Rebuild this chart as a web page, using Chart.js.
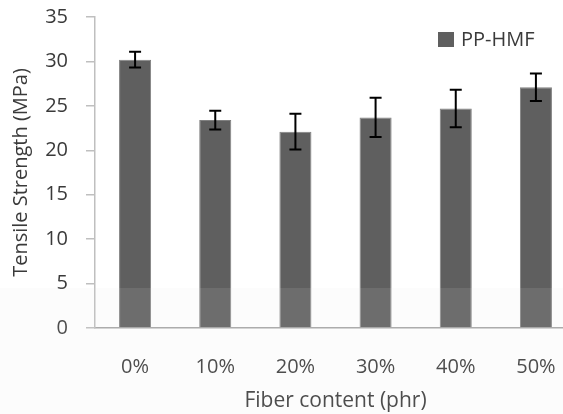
<!DOCTYPE html>
<html>
<head>
<meta charset="utf-8">
<script src="https://cdn.jsdelivr.net/npm/chart.js@4/dist/chart.umd.min.js"></script>
<style>
  html, body { margin: 0; padding: 0; background: #ffffff; overflow: hidden; }
  #wrap { width: 576px; height: 414px; }
</style>
</head>
<body>
<div id="wrap"><canvas id="c" width="576" height="414"></canvas></div>
<script>
const categories = ['0%', '10%', '20%', '30%', '40%', '50%'];
const seriesName = 'PP-HMF';
const tensileStrength = [30.2, 23.4, 22.1, 23.7, 24.7, 27.1];
const errorValues = [0.88, 1.05, 2.0, 2.2, 2.1, 1.55];
const yTicks = [0, 5, 10, 15, 20, 25, 30, 35];

const FONT = "'Open Sans', 'Noto Sans', sans-serif";
const TEXT = '#3a3a3a';

const errorBarPlugin = {
  id: 'errorBars',
  afterDatasetsDraw(chart) {
    const meta = chart.getDatasetMeta(0);
    const y = chart.scales.y;
    const ctx = chart.ctx;
    ctx.save();
    ctx.strokeStyle = '#000000';
    ctx.lineWidth = 2;
    meta.data.forEach((bar, i) => {
      const v = tensileStrength[i], e = errorValues[i];
      const top = y.getPixelForValue(v + e);
      const bot = y.getPixelForValue(v - e);
      const x = bar.x;
      ctx.beginPath();
      ctx.moveTo(x, top); ctx.lineTo(x, bot);
      ctx.moveTo(x - 6, top); ctx.lineTo(x + 6, top);
      ctx.moveTo(x - 6, bot); ctx.lineTo(x + 6, bot);
      ctx.stroke();
    });
    ctx.restore();
  }
};

const legendPlugin = {
  id: 'boxLegend',
  afterDraw(chart) {
    const ctx = chart.ctx;
    const ds = chart.data.datasets[0];
    const area = chart.chartArea;
    const bx = area.right - 138, by = area.top + 15;
    ctx.save();
    ctx.fillStyle = ds.backgroundColor;
    ctx.fillRect(bx, by, 16, 15);
    ctx.fillStyle = TEXT;
    ctx.font = "20px " + FONT;
    ctx.textBaseline = 'middle';
    ctx.textAlign = 'left';
    ctx.fillText(ds.label, bx + 23, by + 8);
    ctx.restore();
  }
};

const bandPlugin = {
  id: 'band',
  afterDraw(chart) {
    const ctx = chart.ctx;
    const y = chart.scales.y;
    const top = Math.round(y.getPixelForValue(4.5));
    ctx.save();
    ctx.fillStyle = 'rgba(255,255,255,0.1)';
    ctx.fillRect(0, top, chart.width, chart.height - top);
    ctx.fillStyle = 'rgba(0,0,0,0.012)';
    ctx.fillRect(0, top, chart.width, chart.height - top);
    ctx.restore();
  }
};

new Chart(document.getElementById('c'), {
  type: 'bar',
  data: {
    labels: categories,
    datasets: [{
      label: seriesName,
      data: tensileStrength,
      backgroundColor: '#5f5f5f',
      borderColor: '#808080',
      borderWidth: 1,
      barPercentage: 0.4,
      categoryPercentage: 1.0
    }]
  },
  options: {
    responsive: false,
    devicePixelRatio: 1,
    animation: false,
    layout: { padding: { top: 17, right: 0, left: 0, bottom: 0 } },
    plugins: {
      legend: { display: false },
      tooltip: { enabled: false }
    },
    scales: {
      x: {
        offset: true,
        grid: { display: false, drawTicks: false },
        border: { display: true, color: '#a6a6a6', width: 1.5 },
        ticks: { color: TEXT, font: { family: FONT, size: 20 }, padding: 27, maxRotation: 0 },
        title: { display: true, text: 'Fiber content (phr)', color: TEXT, font: { family: FONT, size: 21 }, padding: { top: 0, bottom: 0 } },
        afterFit(scale) { scale.height = 86; scale.paddingLeft = 0; scale.paddingRight = 0; }
      },
      y: {
        min: 0,
        max: 35,
        afterBuildTicks(scale) { scale.ticks = yTicks.map(v => ({ value: v })); },
        grid: { drawOnChartArea: false, drawTicks: true, tickLength: 9, color: '#bfbfbf', lineWidth: 1.5 },
        border: { display: true, color: '#bfbfbf', width: 1.5 },
        ticks: { color: TEXT, font: { family: FONT, size: 20 }, padding: 18 },
        title: { display: true, text: 'Tensile Strength (MPa)', color: TEXT, font: { family: FONT, size: 20 }, padding: { top: 9, bottom: 0 } },
        afterFit(scale) { scale.width = 95; scale.paddingTop = 0; scale.paddingBottom = 0; }
      }
    }
  },
  plugins: [errorBarPlugin, legendPlugin, bandPlugin]
});
</script>
</body>
</html>
